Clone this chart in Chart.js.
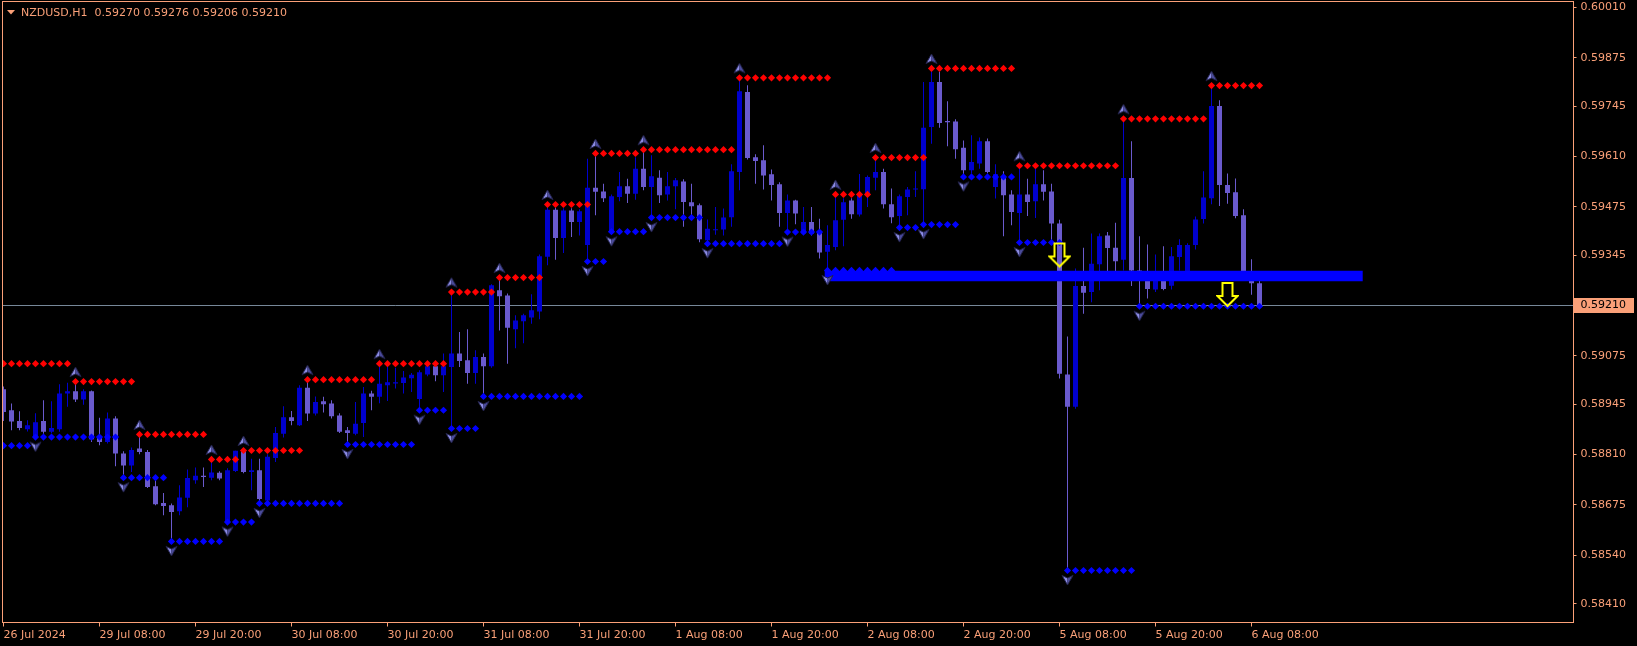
<!DOCTYPE html>
<html><head><meta charset="utf-8">
<script src="https://cdn.jsdelivr.net/npm/chart.js@4.4.1/dist/chart.umd.min.js"></script>
<style>html,body{margin:0;padding:0;background:#000;overflow:hidden}canvas{display:block}</style>
</head><body>
<canvas id="c" width="1637" height="646"></canvas>
<script>
const symbolName = 'NZDUSD,H1';
const xTickBars = [0,12,24,36,48,60,72,84,96,108,120,132,144,156];
const xTickLabels = ['26 Jul 2024','29 Jul 08:00','29 Jul 20:00','30 Jul 08:00','30 Jul 20:00','31 Jul 08:00','31 Jul 20:00','1 Aug 08:00','1 Aug 20:00','2 Aug 08:00','2 Aug 20:00','5 Aug 08:00','5 Aug 20:00','6 Aug 08:00'];
const yTickLabels = ['0.60010','0.59875','0.59745','0.59610','0.59475','0.59345','0.59210','0.59075','0.58945','0.58810','0.58675','0.58540','0.58410'];

const opens = [0.58985,0.58929,0.58900,0.58878,0.58860,0.58900,0.58871,0.58878,0.58974,0.58980,
0.58958,0.58980,0.58858,0.58844,0.58907,0.58813,0.58781,0.58826,0.58817,0.58725,
0.58680,0.58674,0.58658,0.58694,0.58741,0.58753,0.58748,0.58761,0.58629,0.58766,
0.58820,0.58763,0.58768,0.58687,0.58801,0.58866,0.58910,0.58889,0.58989,0.58920,
0.58953,0.58947,0.58915,0.58875,0.58866,0.58895,0.58974,0.58965,0.58996,0.59001,
0.59002,0.59015,0.58959,0.59025,0.59047,0.59023,0.59045,0.59081,0.59063,0.59029,
0.59072,0.59047,0.59251,0.59237,0.59146,0.59168,0.59178,0.59194,0.59341,0.59467,
0.59391,0.59465,0.59434,0.59372,0.59526,0.59516,0.59408,0.59501,0.59530,0.59510,
0.59577,0.59528,0.59553,0.59508,0.59530,0.59543,0.59487,0.59479,0.59385,0.59412,
0.59414,0.59447,0.59568,0.59783,0.59608,0.59600,0.59562,0.59535,0.59458,0.59492,
0.59403,0.59434,0.59407,0.59354,0.59367,0.59440,0.59492,0.59454,0.59508,0.59553,
0.59568,0.59482,0.59450,0.59501,0.59521,0.59522,0.59689,0.59810,0.59705,0.59704,
0.59633,0.59573,0.59591,0.59651,0.59528,0.59555,0.59508,0.59458,0.59508,0.59490,
0.59535,0.59516,0.59430,0.59025,0.58938,0.59262,0.59246,0.59321,0.59398,0.59365,
0.59333,0.59552,0.59304,0.59288,0.59253,0.59294,0.59263,0.59340,0.59298,0.59372,
0.59442,0.59498,0.59745,0.59533,0.59514,0.59452,0.59291,0.59270];
const highs = [0.58993,0.58947,0.58926,0.58902,0.58921,0.58956,0.58953,0.58999,0.59003,0.59006,
0.58985,0.58982,0.58909,0.58923,0.58913,0.58819,0.58829,0.58864,0.58822,0.58741,
0.58707,0.58679,0.58728,0.58770,0.58775,0.58775,0.58797,0.58765,0.58773,0.58820,
0.58821,0.58799,0.58799,0.58811,0.58884,0.58940,0.58927,0.58996,0.59011,0.58966,
0.58965,0.58956,0.58921,0.58884,0.58951,0.58991,0.58981,0.59054,0.59050,0.59043,
0.59034,0.59029,0.59036,0.59056,0.59052,0.59081,0.59246,0.59139,0.59146,0.59090,
0.59081,0.59267,0.59285,0.59242,0.59184,0.59188,0.59240,0.59347,0.59481,0.59473,
0.59471,0.59471,0.59468,0.59604,0.59618,0.59537,0.59508,0.59568,0.59550,0.59608,
0.59628,0.59613,0.59573,0.59568,0.59552,0.59549,0.59537,0.59484,0.59441,0.59474,
0.59470,0.59589,0.59821,0.59801,0.59616,0.59640,0.59575,0.59541,0.59508,0.59494,
0.59474,0.59474,0.59443,0.59425,0.59508,0.59498,0.59498,0.59563,0.59559,0.59607,
0.59577,0.59524,0.59508,0.59528,0.59570,0.59810,0.59846,0.59837,0.59758,0.59710,
0.59653,0.59667,0.59661,0.59658,0.59589,0.59570,0.59519,0.59586,0.59550,0.59577,
0.59573,0.59537,0.59440,0.59127,0.59309,0.59365,0.59403,0.59403,0.59407,0.59432,
0.59711,0.59651,0.59396,0.59374,0.59347,0.59369,0.59367,0.59388,0.59377,0.59449,
0.59570,0.59800,0.59761,0.59564,0.59551,0.59468,0.59334,0.59276];
const lows = [0.58900,0.58875,0.58875,0.58872,0.58857,0.58866,0.58867,0.58871,0.58938,0.58951,
0.58944,0.58844,0.58835,0.58840,0.58779,0.58748,0.58763,0.58811,0.58720,0.58674,
0.58647,0.58577,0.58647,0.58669,0.58732,0.58723,0.58741,0.58741,0.58627,0.58763,
0.58760,0.58714,0.58679,0.58682,0.58790,0.58856,0.58889,0.58887,0.58900,0.58915,
0.58923,0.58907,0.58868,0.58837,0.58862,0.58857,0.58929,0.58948,0.58954,0.58987,
0.58974,0.58978,0.58929,0.59020,0.59007,0.58978,0.58880,0.59045,0.59000,0.59000,
0.58966,0.59043,0.59143,0.59054,0.59095,0.59109,0.59161,0.59173,0.59318,0.59333,
0.59351,0.59394,0.59398,0.59328,0.59452,0.59488,0.59406,0.59490,0.59485,0.59494,
0.59519,0.59446,0.59485,0.59492,0.59468,0.59421,0.59443,0.59380,0.59376,0.59400,
0.59398,0.59421,0.59519,0.59602,0.59537,0.59521,0.59492,0.59421,0.59407,0.59428,
0.59400,0.59398,0.59336,0.59304,0.59358,0.59369,0.59443,0.59449,0.59474,0.59519,
0.59470,0.59431,0.59419,0.59452,0.59501,0.59427,0.59644,0.59687,0.59637,0.59604,
0.59555,0.59564,0.59577,0.59565,0.59497,0.59396,0.59425,0.59379,0.59450,0.59445,
0.59492,0.59385,0.59014,0.58499,0.58933,0.59188,0.59219,0.59251,0.59291,0.59300,
0.59304,0.59262,0.59208,0.59229,0.59246,0.59251,0.59253,0.59304,0.59296,0.59360,
0.59430,0.59482,0.59477,0.59483,0.59444,0.59278,0.59239,0.59206];
const closes = [0.58924,0.58899,0.58881,0.58889,0.58897,0.58871,0.58881,0.58974,0.58980,0.58958,
0.58980,0.58851,0.58844,0.58907,0.58813,0.58781,0.58822,0.58817,0.58723,0.58677,
0.58672,0.58656,0.58695,0.58747,0.58753,0.58750,0.58762,0.58746,0.58768,0.58820,
0.58763,0.58768,0.58691,0.58804,0.58868,0.58910,0.58900,0.58989,0.58920,0.58951,
0.58945,0.58913,0.58871,0.58868,0.58893,0.58974,0.58965,0.59000,0.59004,0.59004,
0.59017,0.59024,0.59031,0.59047,0.59023,0.59047,0.59081,0.59061,0.59029,0.59072,
0.59047,0.59264,0.59235,0.59150,0.59170,0.59184,0.59197,0.59342,0.59467,0.59391,
0.59465,0.59434,0.59463,0.59526,0.59515,0.59498,0.59503,0.59530,0.59510,0.59577,
0.59528,0.59557,0.59506,0.59530,0.59546,0.59488,0.59476,0.59388,0.59416,0.59414,
0.59446,0.59570,0.59785,0.59606,0.59598,0.59559,0.59533,0.59458,0.59492,0.59457,
0.59434,0.59403,0.59352,0.59372,0.59439,0.59487,0.59455,0.59508,0.59555,0.59568,
0.59482,0.59447,0.59503,0.59521,0.59524,0.59687,0.59810,0.59700,0.59702,0.59629,
0.59573,0.59595,0.59651,0.59568,0.59562,0.59506,0.59461,0.59508,0.59488,0.59535,
0.59515,0.59430,0.59027,0.58938,0.59262,0.59244,0.59322,0.59396,0.59364,0.59329,
0.59552,0.59304,0.59286,0.59254,0.59294,0.59254,0.59342,0.59372,0.59372,0.59441,
0.59500,0.59745,0.59533,0.59512,0.59450,0.59291,0.59270,0.59210];

// fractal resistance (up) levels: start bar, end bar, level
const resStart = [0,9,17,26,30,38,47,56,62,68,74,80,92,104,109,116,127,140,151];
const resEnd   = [8,16,25,29,37,46,55,61,67,73,79,91,103,108,115,126,139,150,157];
const resLevel = [0.59054,0.59006,0.58864,0.58797,0.58821,0.59011,0.59054,0.59246,0.59285,0.59481,0.59618,0.59628,0.59821,0.59508,0.59607,0.59846,0.59585,0.59711,0.59800];
// fractal support (down) levels
const supStart = [0,4,15,21,28,32,43,52,56,60,73,76,81,88,98,103,112,115,120,127,133,142];
const supEnd   = [3,14,20,27,31,42,51,55,59,72,75,80,87,97,102,111,114,119,126,132,141,157];
const supLevel = [0.58834,0.58857,0.58748,0.58577,0.58629,0.58679,0.58837,0.58929,0.58880,0.58966,0.59328,0.59408,0.59446,0.59376,0.59407,0.59304,0.59419,0.59427,0.59555,0.59379,0.58499,0.59208];
// sell signal arrows
const signalBars = [132,153];
const signalPrices = [0.59312,0.59206];
// horizontal zone line
const zoneFrom = [102.65];
const zoneTo = [169.9];
const zoneLevel = [0.59289];

const axisColor = 'rgb(250,160,120)';
const bullColor = '#0000CD';
const bearColor = '#6A5ACD';
const N = opens.length;
const idx = opens.map((_, i) => i);
const bid = closes[N - 1];
const xMin = -0.125, xMax = 196.25;
const yMax = 0.6002567, yMin = 0.5835945;

const colors = idx.map(i => closes[i] >= opens[i] ? bullColor : bearColor);
const wickData = idx.map(i => ({x: i, y: [lows[i], highs[i]]}));
const bodyData = idx.map(i => ({x: i, y: [opens[i], closes[i]]}));
const resPoints = [], supPoints = [];
resStart.forEach((s, j) => { for (let b = s; b <= resEnd[j]; b++) resPoints.push({x: b, y: resLevel[j]}); });
supStart.forEach((s, j) => { for (let b = s; b <= supEnd[j]; b++) supPoints.push({x: b, y: supLevel[j]}); });
const upFr = resStart.slice(1).map((b, j) => ({x: b, y: resLevel[j + 1]}));
const dnFr = supStart.slice(1).map((b, j) => ({x: b, y: supLevel[j + 1]}));
const sigPts = signalBars.map((b, j) => ({x: b, y: signalPrices[j]}));

function fractalImage(up) {
  const c = document.createElement('canvas');
  c.width = 13; c.height = 31;
  const g = c.getContext('2d');
  const cx = 6.5, cy = up ? 15.5 - 9 : 15.5 + 9, s = up ? 1 : -1;
  const tip = [cx, cy - 5.5 * s], r = [cx + 5.5, cy + 4 * s], n = [cx, cy + 1.5 * s], l = [cx - 5.5, cy + 4 * s];
  g.fillStyle = '#8c8ce4';
  g.beginPath(); g.moveTo(...tip); g.lineTo(...n); g.lineTo(...l); g.closePath(); g.fill();
  g.fillStyle = '#4b4b9c';
  g.beginPath(); g.moveTo(...tip); g.lineTo(...r); g.lineTo(...n); g.closePath(); g.fill();
  g.strokeStyle = '#22224a'; g.lineWidth = 1;
  g.beginPath(); g.moveTo(...tip); g.lineTo(...r); g.lineTo(...n); g.lineTo(...l); g.closePath(); g.stroke();
  return c;
}
function signalImage() {
  const c = document.createElement('canvas');
  c.width = 23; c.height = 52;
  const g = c.getContext('2d');
  const t = 25;
  g.strokeStyle = '#FFFF00'; g.lineWidth = 2; g.lineJoin = 'miter';
  g.beginPath();
  g.moveTo(11.5, t);
  g.lineTo(1.5, t - 10); g.lineTo(6.5, t - 10); g.lineTo(6.5, t - 23);
  g.lineTo(16.5, t - 23); g.lineTo(16.5, t - 10); g.lineTo(21.5, t - 10);
  g.closePath(); g.stroke();
  return c;
}

const decor = {
  id: 'decor',
  beforeDraw(chart) {
    const {ctx, chartArea: ca, scales} = chart;
    ctx.save();
    ctx.fillStyle = '#000'; ctx.fillRect(0, 0, chart.width, chart.height);
    const yb = scales.y.getPixelForValue(bid);
    ctx.fillStyle = axisColor;
    ctx.fillRect(Math.floor(ca.right), Math.round(yb - 7.5), 61, 15);
    ctx.restore();
  },
  afterDraw(chart) {
    const {ctx, chartArea: ca} = chart;
    ctx.save();
    ctx.strokeStyle = axisColor; ctx.lineWidth = 1;
    ctx.strokeRect(ca.left, ca.top, ca.right - ca.left, ca.bottom - ca.top);
    ctx.fillStyle = axisColor;
    ctx.beginPath(); ctx.moveTo(7, 10); ctx.lineTo(15, 10); ctx.lineTo(11, 14.5); ctx.closePath(); ctx.fill();
    ctx.font = '11px "DejaVu Sans"'; ctx.textBaseline = 'middle'; ctx.textAlign = 'left';
    const t = symbolName + '  ' + [opens[N-1], highs[N-1], lows[N-1], closes[N-1]].map(v => v.toFixed(5)).join(' ');
    ctx.fillText(t, 21, 13);
    ctx.restore();
  }
};

const font = {family: 'DejaVu Sans', size: 11};
new Chart(document.getElementById('c'), {
  type: 'bar',
  data: {
    datasets: [
      {type: 'line', data: [{x: xMin, y: bid}, {x: xMax, y: bid}], borderColor: '#778899', borderWidth: 1, pointRadius: 0, order: 20},
      {type: 'bar', data: wickData, backgroundColor: colors, barThickness: 1, minBarLength: 1, grouped: false, inflateAmount: 0, borderWidth: 0, order: 19},
      {type: 'bar', data: bodyData, backgroundColor: colors, barThickness: 5, minBarLength: 1, grouped: false, inflateAmount: 0, borderWidth: 0, order: 18},
      {type: 'scatter', data: resPoints, pointStyle: 'rectRot', pointRadius: 3.6, backgroundColor: '#FF0000', borderWidth: 0, order: 17},
      {type: 'scatter', data: supPoints, pointStyle: 'rectRot', pointRadius: 3.6, backgroundColor: '#0000FF', borderWidth: 0, order: 16},
      {type: 'line', data: [{x: zoneFrom[0], y: zoneLevel[0]}, {x: zoneTo[0], y: zoneLevel[0]}], borderColor: '#0000FF', borderWidth: 10.5, borderCapStyle: 'butt', pointRadius: 0, order: 15},
      {type: 'scatter', data: upFr, pointStyle: fractalImage(true), pointRadius: 5, order: 14},
      {type: 'scatter', data: dnFr, pointStyle: fractalImage(false), pointRadius: 5, order: 13},
      {type: 'scatter', data: sigPts, pointStyle: signalImage(), pointRadius: 5, order: 12}
    ]
  },
  options: {
    responsive: false, animation: false, devicePixelRatio: 1, events: [],
    layout: {autoPadding: false, padding: {left: 2.5, top: 1.5, right: 0, bottom: 0}},
    plugins: {legend: {display: false}, tooltip: {enabled: false}, title: {display: false}},
    scales: {
      x: {
        type: 'linear', min: xMin, max: xMax, offset: false, bounds: 'data', position: 'bottom',
        afterBuildTicks: s => { s.ticks = xTickBars.map(v => ({value: v})); },
        afterFit: s => { s.height = 23.5; s.paddingLeft = 0; s.paddingRight = 0; },
        grid: {display: true, offset: false, drawOnChartArea: false, drawTicks: true, tickLength: 4, color: axisColor, tickColor: axisColor},
        border: {display: false},
        ticks: {autoSkip: false, maxRotation: 0, minRotation: 0, align: 'start', padding: 2, color: axisColor, font, callback: (v, i) => xTickLabels[i]}
      },
      y: {
        type: 'linear', position: 'right', min: yMin, max: yMax, bounds: 'data',
        afterBuildTicks: s => { s.ticks = yTickLabels.map(t => ({value: parseFloat(t)})); },
        afterFit: s => { s.width = 63.5; s.paddingTop = 0; s.paddingBottom = 0; },
        grid: {display: true, drawOnChartArea: false, drawTicks: true, tickLength: 3, color: axisColor, tickColor: axisColor},
        border: {display: false},
        ticks: {autoSkip: false, padding: 4, font,
          color: c => (c.tick && Math.abs(c.tick.value - bid) < 1e-7) ? '#000000' : axisColor,
          callback: (v, i) => yTickLabels[i]}
      }
    }
  },
  plugins: [decor]
});
</script>
</body></html>
